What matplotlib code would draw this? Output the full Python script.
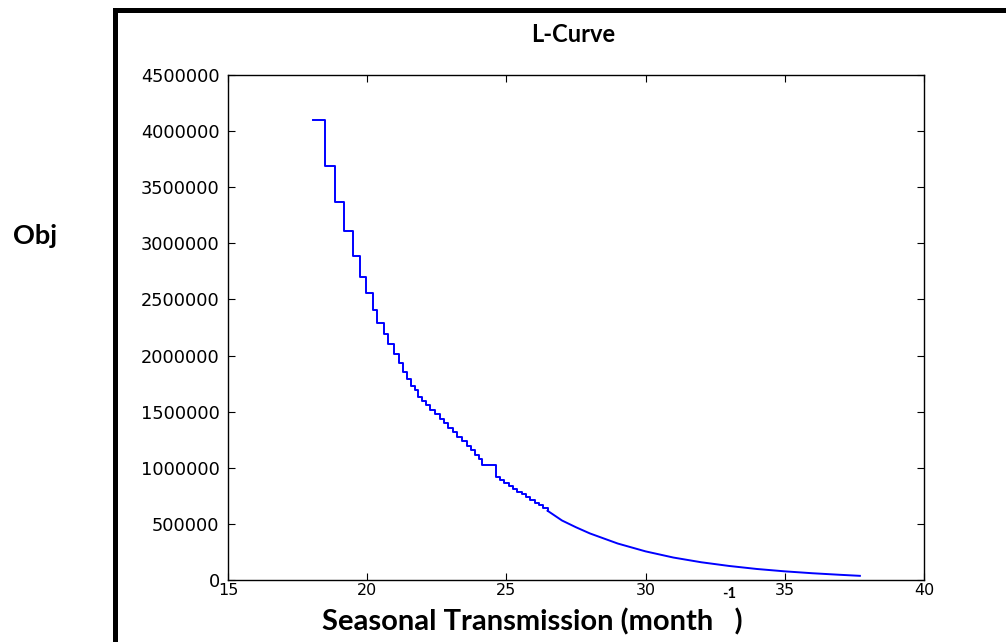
import matplotlib.pyplot as plt
from matplotlib.lines import Line2D

# stepped part of the L-curve (x = seasonal transmission, y = objective)
step_x = [18.04, 18.49, 18.85, 19.18, 19.49, 19.75, 19.97, 20.20, 20.37, 20.61,
          20.76, 20.97, 21.15, 21.30, 21.42, 21.56, 21.72, 21.84, 21.96, 22.12,
          22.27, 22.43, 22.60, 22.76, 22.92, 23.08, 23.24, 23.41, 23.57, 23.73,
          23.87, 24.00, 24.14, 24.63, 24.78, 24.93, 25.09, 25.24, 25.40, 25.55,
          25.71, 25.86, 26.02, 26.17, 26.33, 26.48]
step_y = [4100000, 3690000, 3370000, 3110000, 2890000, 2700000, 2555000, 2410000, 2290000, 2195000,
          2100000, 2010000, 1930000, 1856000, 1790000, 1730000, 1690000, 1630000, 1595000, 1555000,
          1515000, 1475000, 1435000, 1395000, 1355000, 1315000, 1275000, 1235000, 1195000, 1155000,
          1115000, 1075000, 1025000, 920000, 893000, 866000, 840000, 814000, 788000, 762000,
          737000, 712000, 688000, 664000, 640000, 617000]

# smooth tail
tail_x = [26.48, 27.0, 27.5, 28.0, 28.5, 29.0, 29.5, 30.0, 31.0, 32.0, 33.0, 34.0, 35.0, 36.0, 37.0, 37.7]
tail_y = [617000, 530000, 470000, 415000, 370000, 325000, 290000, 255000, 200000, 158000, 125000,
          98000, 77000, 60000, 46000, 37000]

xticks = [15, 20, 25, 30, 35, 40]
yticks = [0, 500000, 1000000, 1500000, 2000000, 2500000, 3000000, 3500000, 4000000, 4500000]

fig = plt.figure(figsize=(10.06, 6.42), dpi=100)
ax = fig.add_axes([0.2266, 0.0966, 0.6918, 0.7866])

ax.step(step_x, step_y, where='post', color='b', lw=1.4)
ax.plot(tail_x, tail_y, color='b', lw=1.4)

ax.set_xlim(15, 40)
ax.set_ylim(0, 4500000)
ax.set_xticks(xticks)
ax.set_yticks(yticks)
ax.ticklabel_format(style='plain', useOffset=False)
ax.tick_params(direction='in', top=True, right=True, length=5, width=0.8)
ax.tick_params(axis='y', labelsize=12.8, pad=6)
ax.tick_params(axis='x', labelsize=11.5, pad=2)
for s in ax.spines.values():
    s.set_linewidth(1.0)

bold = dict(family='Lato', fontweight='bold')
fig.text(573/1006, 1 - 35/642, 'L-Curve', ha='center', va='center', fontsize=17, **bold)
fig.text(35/1006, 1 - 236/642, 'Obj', ha='center', va='center', fontsize=19.5, **bold)
fig.text(532/1006, 1 - 622/642, 'Seasonal Transmission (month   )', ha='center', va='center',
         fontsize=21, **bold)
fig.text(729.5/1006, 1 - 594/642, '-1', ha='center', va='center', fontsize=10.5, **bold)

# black frame around the slide area
fx = 115/1006
fy = 1 - 9.5/642
fig.add_artist(Line2D([fx, fx], [-0.05, fy], transform=fig.transFigure, color='k', lw=3.6,
                      solid_capstyle='projecting'))
fig.add_artist(Line2D([fx, 1.05], [fy, fy], transform=fig.transFigure, color='k', lw=3.6,
                      solid_capstyle='projecting'))

fig.savefig('out.png', dpi=100)
